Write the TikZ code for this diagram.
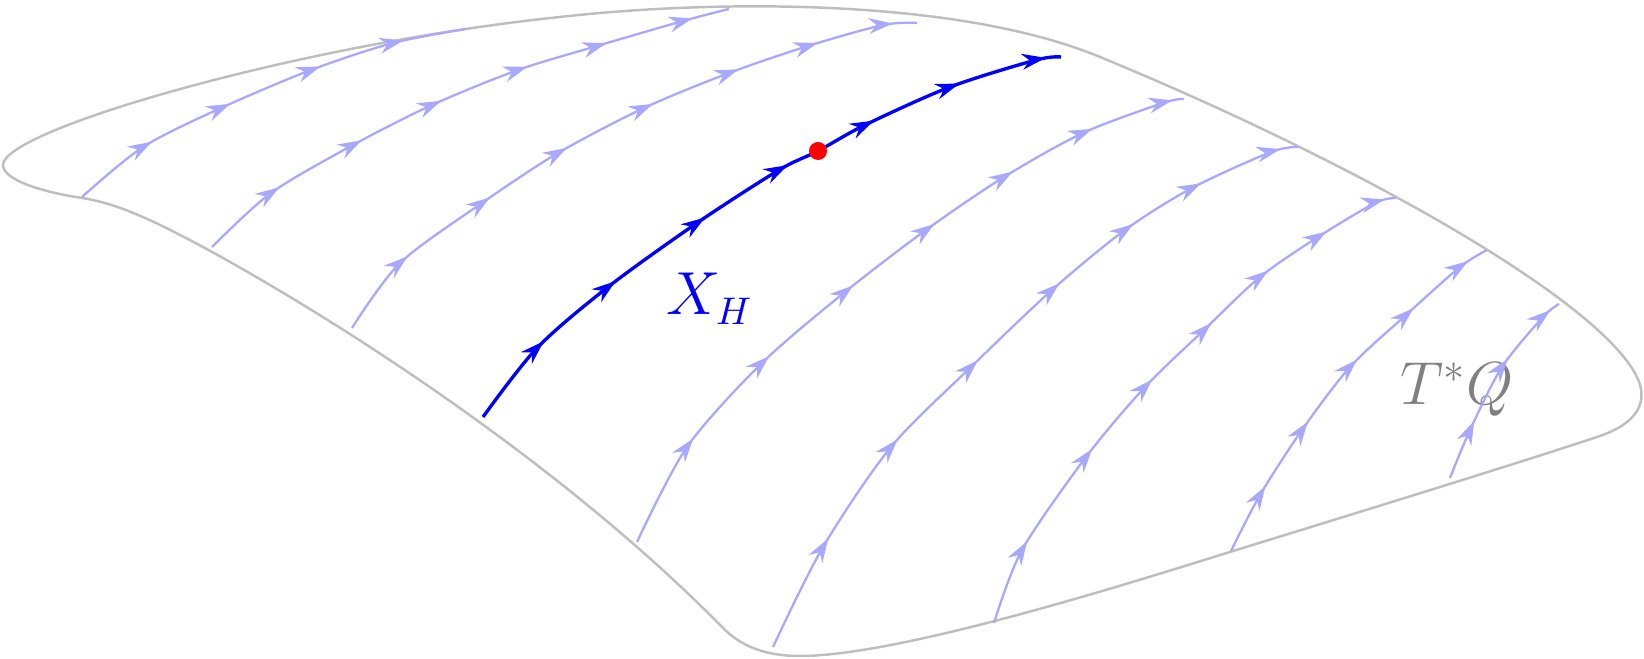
\documentclass[tikz,border=0pt]{standalone}
\usetikzlibrary{arrows.meta,decorations.markings}
\definecolor{lblue}{RGB}{168,168,255}
\definecolor{outl}{RGB}{190,190,190}
\definecolor{lbl}{RGB}{128,128,128}
\tikzset{
  flowtip/.tip={Stealth[length=6.8pt,width=4.5pt,inset=2.2pt]},
  arr/.style={postaction={decorate,decoration={markings,mark=at position #1 with {\arrow{flowtip}}}}},
  blobline/.style={draw=outl,line width=0.7pt},
  lightflow/.style={draw=lblue,line width=0.65pt},
  darkflow/.style={draw=blue,line width=0.95pt},
  bigmath/.style={inner sep=0pt,anchor=base west},
}
\begin{document}
\begin{tikzpicture}[x=0.01cm,y=-0.01cm]
\useasboundingbox (0,0) rectangle (1644,659);
% outline of T*Q
\draw[blobline] (3,165) .. controls (3,130) and (300,44) .. (560,17)
  .. controls (710,0) and (955,-3) .. (1100,57)
  .. controls (1350,160) and (1598,298) .. (1637,377)
  .. controls (1648,400) and (1640,422) .. (1600,436)
  .. controls (1510,466) and (1330,521) .. (1230,552)
  .. controls (1130,583) and (900,656) .. (800,656)
  .. controls (760,656) and (738,643) .. (723,628)
  .. controls (573,475) and (364,336) .. (214,253)
  .. controls (164,226) and (122,204) .. (82,198)
  .. controls (42,192) and (3,180) .. (3,165) -- cycle;
% label
\node[bigmath, text=lbl, font=\fontsize{17}{20}\selectfont] (tq) at (1400,405) {$T^*Q$};
% light flow lines
\draw[lightflow, arr/.list={0.21,0.415,0.645,0.85}] plot[smooth] coordinates
 {(82,197) (143,147) (221,108) (311,70) (393,43) (466,29)};
\draw[lightflow, arr/.list={0.156,0.321,0.475,0.636,0.779,0.935}] plot[smooth] coordinates
 {(212,247) (271,193) (353,145) (432,105) (518,70) (597,46) (683,21) (729,9)};
\draw[lightflow, arr/.list={0.138,0.292,0.431,0.578,0.718,0.845,0.963}] plot[smooth] coordinates
 {(352,328) (400,263) (482,203) (558,153) (644,108) (729,73) (808,46) (883,25) (917,23)};
\draw[lightflow, arr/.list={0.163,0.318,0.470,0.611,0.741,0.866,0.984}] plot[smooth] coordinates
 {(637,542) (687,447) (762,363) (845,292) (926,230) (1004,177) (1083,133) (1163,103) (1184,99)};
\draw[lightflow, arr/.list={0.163,0.325,0.476,0.626,0.753,0.859,0.975}] plot[smooth] coordinates
 {(773,647) (823,547) (891,447) (971,367) (1052,290) (1125,230) (1192,188) (1271,152) (1299,147)};
\draw[lightflow, arr/.list={0.147,0.335,0.488,0.624,0.753,0.870,0.981}] plot[smooth] coordinates
 {(994,623) (1022,550) (1086,457) (1145,387) (1204,330) (1260,277) (1318,237) (1375,203) (1396,198)};
\draw[lightflow, arr/.list={0.183,0.376,0.574,0.765,0.945}] plot[smooth] coordinates
 {(1231,551) (1260,495) (1302,430) (1350,367) (1406,315) (1460,267) (1487,250)};
\draw[lightflow, arr/.list={0.298,0.638,0.948}] plot[smooth] coordinates
 {(1450,478) (1470,430) (1502,367) (1543,317) (1559,304)};
% Hamiltonian flow line
\draw[darkflow, arr/.list={0.140,0.275,0.433,0.574,0.714,0.848,0.978}] plot[smooth] coordinates
 {(483,417) (537,348) (608,287) (697,223) (779,170) (818,151) (865,125) (950,87) (1036,60) (1061,57)};
\node[circle, fill=red, inner sep=0pt, minimum size=0.18cm] (pt) at (818,151) {};
\node[bigmath, text=blue, font=\fontsize{16}{19}\selectfont] (xh) at (666,315) {$X_H$};
\end{tikzpicture}
\end{document}
